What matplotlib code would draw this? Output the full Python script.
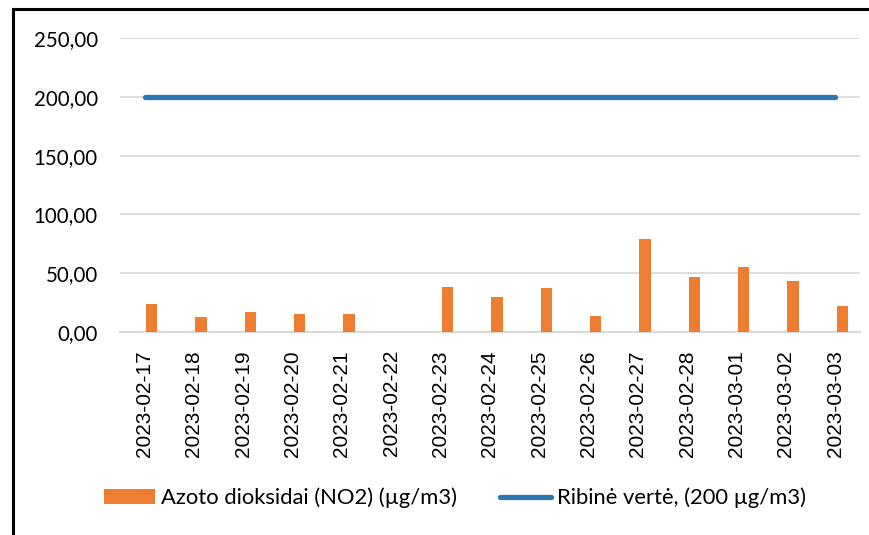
import numpy as np
import matplotlib
matplotlib.use("Agg")
import matplotlib.pyplot as plt
from matplotlib.lines import Line2D
from matplotlib.ticker import FuncFormatter

# data
dates = ['2023-02-17', '2023-02-18', '2023-02-19', '2023-02-20', '2023-02-21',
         '2023-02-22', '2023-02-23', '2023-02-24', '2023-02-25', '2023-02-26',
         '2023-02-27', '2023-02-28', '2023-03-01', '2023-03-02', '2023-03-03']
no2 = [24, 13, 17, 15, 15, 0, 38, 30, 37, 14, 79.5, 46.5, 55, 43.5, 22.5]
limit = [200] * len(dates)
y_ticks = [0, 50, 100, 150, 200, 250]

bar_label = 'Azoto dioksidai (NO2) (µg/m3)'
line_label = 'Ribinė vertė, (200 µg/m3)'

orange = '#ED7D31'
blue = '#2E75B6'
grid = '#D9D9D9'

W, H = 870, 535
fig = plt.figure(figsize=(W / 100, H / 100), dpi=100)
ax = fig.add_axes([120 / W, 1 - 332 / H, 740 / W, (332 - 38) / H])

x = np.arange(len(dates))
ax.bar(x + 0.14, no2, width=0.23, color=orange, label=bar_label, zorder=3)
ax.plot(x, limit, color=blue, lw=3.8, solid_capstyle='round',
        label=line_label, zorder=4)

ax.set_xlim(-0.5, len(dates) - 0.5)
ax.set_ylim(0, 250)
ax.set_yticks(y_ticks)
ax.yaxis.set_major_formatter(
    FuncFormatter(lambda v, p: '{:.2f}'.format(v).replace('.', ',')))
ax.set_xticks(x)
ax.set_xticklabels(dates, rotation=90, family='Liberation Sans', fontsize=15)
for lab in ax.get_yticklabels():
    lab.set_family('Lato')
    lab.set_fontsize(14.8)

ax.tick_params(axis='both', length=0)
ax.tick_params(axis='y', pad=16)
ax.tick_params(axis='x', pad=13)
ax.grid(axis='y', color=grid, lw=1.3, zorder=0)
for s in ['top', 'right', 'left']:
    ax.spines[s].set_visible(False)
ax.spines['bottom'].set_color(grid)
ax.spines['bottom'].set_linewidth(1.6)

# chart frame (only top and left edges are inside the picture)
fig.add_artist(Line2D([13 / W, 1.0], [1 - 9 / H, 1 - 9 / H],
                      transform=fig.transFigure, color='black', lw=2.2))
fig.add_artist(Line2D([13 / W, 13 / W], [0.0, 1 - 9 / H],
                      transform=fig.transFigure, color='black', lw=2.2))

handles, labels = ax.get_legend_handles_labels()
fig.legend(handles[::-1], labels[::-1], loc='center', ncol=2,
           bbox_to_anchor=(455 / W, 1 - 498 / H), frameon=False,
           prop={'family': 'Lato', 'size': 15.8}, handlelength=2.3,
           handletextpad=0.27, columnspacing=2.0)

fig.savefig('out.png', dpi=100)
